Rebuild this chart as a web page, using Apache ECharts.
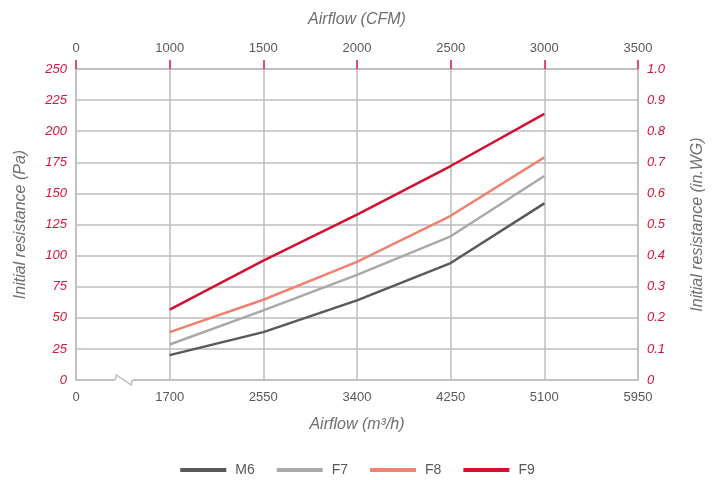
<!DOCTYPE html>
<html>
<head>
<meta charset="utf-8">
<script src="https://cdn.jsdelivr.net/npm/echarts@6/dist/echarts.min.js"></script>
<style>html,body{margin:0;padding:0;background:#fff;}#c{width:715px;height:480px;}</style>
</head>
<body>
<div id="c"></div>
<script>
// Data
var airflowM3h = ['0', '1700', '2550', '3400', '4250', '5100', '5950'];
var airflowCFM = ['0', '1000', '1500', '2000', '2500', '3000', '3500'];
var seriesNames = ['M6', 'F7', 'F8', 'F9'];
var m6 = ['-', 20, 38.5, 64, 94, 142];
var f7 = ['-', 28.5, 56, 84.5, 115.5, 164];
var f8 = ['-', 38.5, 64.5, 95, 132, 179];
var f9 = ['-', 56.5, 96, 133, 172, 214];
var colors = ['#58595b', '#a7a9ac', '#f08272', '#d4102f'];

var red = '#d7143a';
var gridGray = '#bdbdbf';
var font = 'Liberation Sans, Arial, sans-serif';

var chart = echarts.init(document.getElementById('c'), null, {renderer: 'canvas'});
var mk = function (name, data, i) {
  return {
    name: name, type: 'line', data: data, xAxisIndex: 0, yAxisIndex: 0,
    symbol: 'none', smooth: false, color: colors[i],
    lineStyle: {width: 2.5, color: colors[i]}, z: 5 + i
  };
};
var option = {
  animation: false,
  textStyle: {fontFamily: font},
  grid: {left: 76, right: 77, top: 69, bottom: 100},
  legend: {
    top: 458, left: 'center', itemWidth: 46, itemHeight: 4, itemGap: 22, icon: 'rect',
    data: seriesNames,
    textStyle: {color: '#58595b', fontSize: 14, fontFamily: font, padding: [0, 0, 0, 4]}
  },
  xAxis: [{
    type: 'category', data: airflowM3h, boundaryGap: false, position: 'bottom',
    axisLine: {show: true, onZero: false, lineStyle: {color: gridGray, width: 1.5}},
    axisTick: {show: false},
    axisLabel: {color: '#58595b', fontSize: 13, margin: 11, fontFamily: font},
    splitLine: {show: true, lineStyle: {color: gridGray, width: 1.5}},
    name: 'Airflow (m³/h)', nameLocation: 'middle', nameGap: 37,
    nameTextStyle: {color: '#6d6e71', fontSize: 16, fontStyle: 'italic', fontFamily: font}
  }, {
    type: 'category', data: airflowCFM, boundaryGap: false, position: 'top',
    axisLine: {show: true, onZero: false, lineStyle: {color: gridGray, width: 1.5}},
    axisTick: {show: true, length: 9, inside: false, lineStyle: {color: red, width: 1.5}},
    axisLabel: {color: '#58595b', fontSize: 13, margin: 14, fontFamily: font},
    splitLine: {show: false},
    name: 'Airflow (CFM)', nameLocation: 'middle', nameGap: 41,
    nameTextStyle: {color: '#6d6e71', fontSize: 16, fontStyle: 'italic', fontFamily: font}
  }],
  yAxis: [{
    type: 'value', min: 0, max: 250, interval: 25, position: 'left',
    axisLine: {show: true, lineStyle: {color: gridGray, width: 1.5}},
    axisTick: {show: false},
    axisLabel: {color: red, fontSize: 13, fontStyle: 'italic', margin: 9, fontFamily: font},
    splitLine: {show: true, lineStyle: {color: gridGray, width: 1.5}},
    name: 'Initial resistance (Pa)', nameLocation: 'middle', nameGap: 47,
    nameTextStyle: {color: '#6d6e71', fontSize: 16, fontStyle: 'italic', fontFamily: font}
  }, {
    type: 'value', min: 0, max: 1, interval: 0.1, position: 'right',
    axisLine: {show: true, lineStyle: {color: gridGray, width: 1.5}},
    axisTick: {show: false},
    axisLabel: {
      color: red, fontSize: 13, fontStyle: 'italic', margin: 9, fontFamily: font,
      formatter: function (v) { return v === 0 ? '0' : v.toFixed(1); }
    },
    splitLine: {show: false},
    name: 'Initial resistance (in.WG)', nameLocation: 'middle', nameGap: 52,
    nameTextStyle: {color: '#6d6e71', fontSize: 16, fontStyle: 'italic', fontFamily: font}
  }],
  series: [mk('M6', m6, 0), mk('F7', f7, 1), mk('F8', f8, 2), mk('F9', f9, 3)]
};
chart.setOption(option);

// axis break symbol between 0 and 1700 on bottom axis
var p0 = chart.convertToPixel({xAxisIndex: 0, yAxisIndex: 0}, ['0', 0]);
var p1 = chart.convertToPixel({xAxisIndex: 0, yAxisIndex: 0}, ['1700', 0]);
var span = p1[0] - p0[0];
var bx0 = p0[0] + span * 0.42, bx1 = p0[0] + span * 0.6, by = p0[1];
chart.setOption({
  graphic: [{
    type: 'rect', z: 100,
    shape: {x: bx0 - 0.5, y: by - 3, width: bx1 - bx0 + 1, height: 6},
    style: {fill: '#fff'}
  }, {
    type: 'polyline', z: 101,
    shape: {points: [[bx0, by], [bx0 + 1, by - 5], [bx1 - 1, by + 5], [bx1, by]]},
    style: {stroke: gridGray, lineWidth: 1.5, fill: null}
  }]
});
</script>
</body>
</html>
